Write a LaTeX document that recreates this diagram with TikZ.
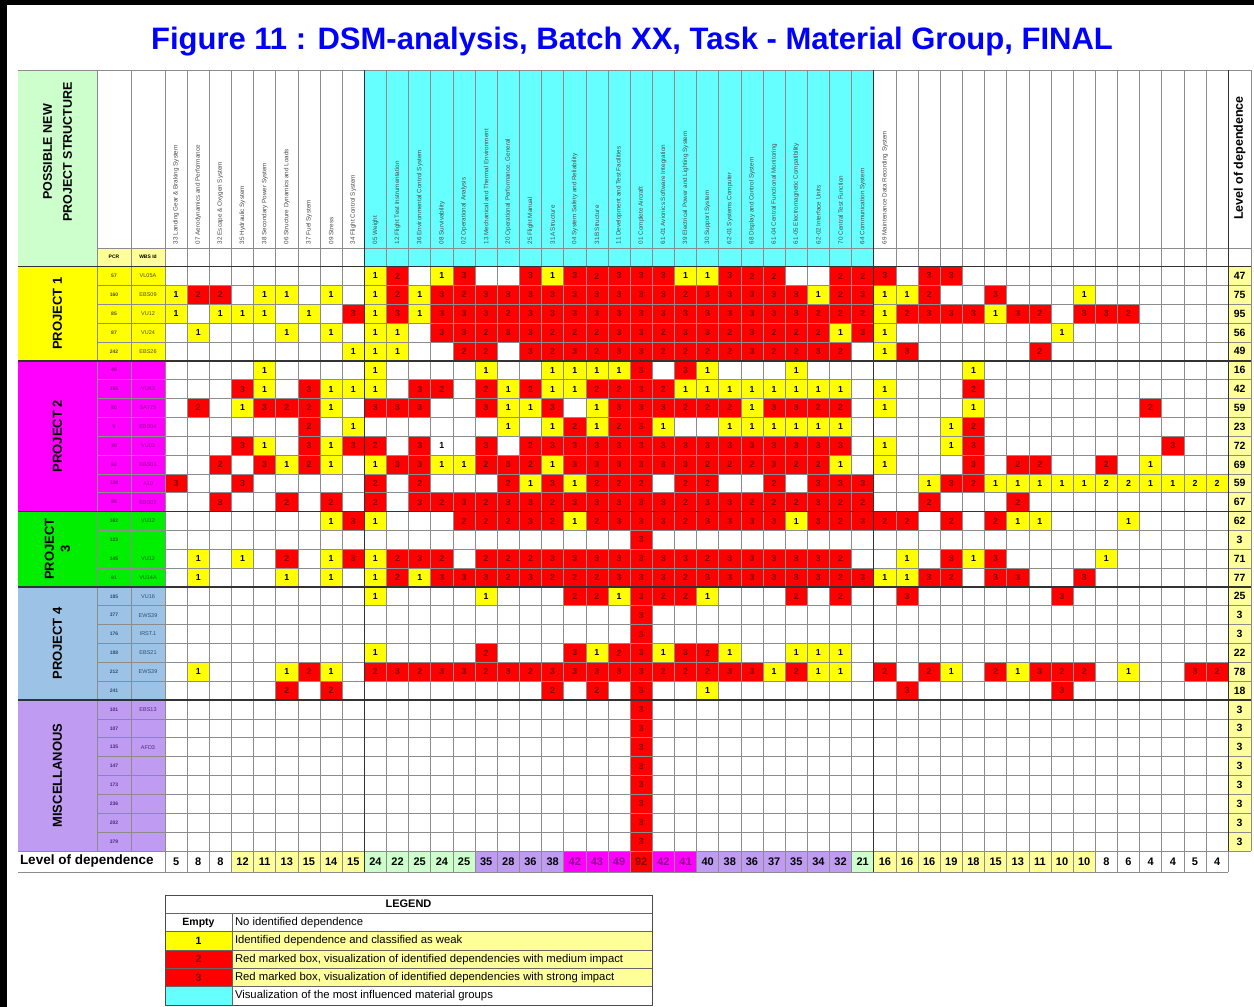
\documentclass[tikz,border=0pt]{standalone}
\usepackage{fontspec}
\setmainfont{Liberation Sans}
\definecolor{hdrCyan}{HTML}{66FFFF}
\definecolor{cellYel}{HTML}{FFFF00}
\definecolor{cellRed}{HTML}{FF0000}
\definecolor{numRed}{HTML}{800000}
\definecolor{lightYel}{HTML}{FFFF99}
\definecolor{lightGrn}{HTML}{CCFFCC}
\definecolor{grpMag}{HTML}{FF00FF}
\definecolor{grpGrn}{HTML}{00EE00}
\definecolor{grpBlue}{HTML}{9CC3E6}
\definecolor{grpLav}{HTML}{BF9BF2}
\definecolor{titleBlue}{HTML}{0000FF}
\definecolor{gridGray}{HTML}{8C8C8C}
\definecolor{txtMag}{HTML}{8A008A}
\definecolor{txtGrn}{HTML}{006400}
\definecolor{txtBlue}{HTML}{2F4F6F}
\definecolor{txtLav}{HTML}{4B2A7A}
\definecolor{txtYel}{HTML}{4D4D00}

\newcommand\dsmcw{22.15}
\newcommand\dsmrh{18.85}

% one matrix cell: row, column, code (1 weak, 2/3 red, 4 yellow "2", 5 plain "1")
\newcommand\dsmcell[3]{%
  \ifcase#3\relax
    \def\dsmfill{white}\def\dsmtext{black}\def\dsmnum{}%
  \or\def\dsmfill{cellYel}\def\dsmtext{black}\def\dsmnum{1}%
  \or\def\dsmfill{cellRed}\def\dsmtext{numRed}\def\dsmnum{2}%
  \or\def\dsmfill{cellRed}\def\dsmtext{numRed}\def\dsmnum{3}%
  \or\def\dsmfill{cellYel}\def\dsmtext{black}\def\dsmnum{2}%
  \or\def\dsmfill{white}\def\dsmtext{black}\def\dsmnum{1}%
  \fi
  \fill[fill=\dsmfill] ({165+(#2-1)*\dsmcw},{266.5+(#1-1)*\dsmrh}) rectangle ++(\dsmcw,\dsmrh);
  \node[cellnum,text=\dsmtext] (m-#1-#2) at ({165+(#2-0.5)*\dsmcw},{266.5+(#1-0.5)*\dsmrh}) {\dsmnum};
}

\begin{document}
\begin{tikzpicture}[x=1pt,y=-1pt,
  every node/.style={inner sep=0pt,outer sep=0pt},
  gridln/.style={draw=gridGray,line width=0.7pt},
  sepln/.style={draw=black!80,line width=1.5pt},
  cellnum/.style={font=\fontsize{8.8}{9}\selectfont\bfseries},
  hdrlbl/.style={rotate=90,anchor=west,font=\fontsize{6.3}{7}\selectfont,text=black!70},
  projlbl/.style={rotate=90,align=center,font=\fontsize{13}{15}\selectfont\bfseries},
  idtxt/.style={font=\fontsize{5.5}{6}\selectfont},
  lvlnum/.style={font=\fontsize{10.5}{11}\selectfont\bfseries},
  botnum/.style={font=\fontsize{11}{12}\selectfont\bfseries},
  legtxt/.style={anchor=west,font=\fontsize{11.3}{12}\selectfont}]

\useasboundingbox (0,0) rectangle (1254,1007);
\fill[white] (0,0) rectangle (1254,1007);

% frame
\draw[line width=7pt] (3.5,0) -- (3.5,1007);
\draw[line width=5pt] (0,2.5) -- (1254,2.5);

% title
\node[font=\fontsize{31}{33}\selectfont\bfseries,text=titleBlue] (title) at (632,42)
  {Figure 11 : DSM-analysis, Batch XX, Task - Material Group, FINAL};

% header backgrounds
\fill[lightGrn] (18,70) rectangle (97,266.5);
\fill[hdrCyan] ({165+9*\dsmcw},70) rectangle ({165+32*\dsmcw},266.5);
\fill[lightYel] (97,248) rectangle (165,266.5);
\node[projlbl,font=\fontsize{12.5}{20}\selectfont\bfseries] (newstruct) at (57.5,152)
  {POSSIBLE NEW\\PROJECT STRUCTURE};
\node[idtxt,font=\fontsize{5}{6}\selectfont\bfseries] (pcrh) at (114,257.2) {PCR};
\node[idtxt,font=\fontsize{5}{6}\selectfont\bfseries] (wbsh) at (148,257.2) {WBS Id};

% project group blocks
\fill[cellYel] (18,{266.5}) rectangle (165,{266.5+5*\dsmrh});
\fill[grpMag] (18,{266.5+5*\dsmrh}) rectangle (165,{266.5+13*\dsmrh});
\fill[grpGrn] (18,{266.5+13*\dsmrh}) rectangle (165,{266.5+17*\dsmrh});
\fill[grpBlue] (18,{266.5+17*\dsmrh}) rectangle (165,{266.5+23*\dsmrh});
\fill[grpLav] (18,{266.5+23*\dsmrh}) rectangle (165,{266.5+31*\dsmrh});
\node[projlbl] (p1) at (57.5,{266.5+2.5*\dsmrh}) {PROJECT 1};
\node[projlbl] (p2) at (57.5,{266.5+9*\dsmrh}) {PROJECT 2};
\node[projlbl,font=\fontsize{13}{16}\selectfont\bfseries] (p3) at (57.5,{266.5+15*\dsmrh}) {PROJECT\\3};
\node[projlbl] (p4) at (57.5,{266.5+20*\dsmrh}) {PROJECT 4};
\node[projlbl] (p5) at (57.5,{266.5+27*\dsmrh}) {MISCELLANOUS};

% PCR and WBS identifiers
\foreach \r/\p/\w/\tc in {1/57/VL05A/txtYel,2/160/EBS09/txtYel,3/85/VU12/txtYel,4/87/VU24/txtYel,5/242/EBS26/txtYel,
  6/46//txtMag,7/155/VU43/txtMag,8/80/SA775/txtMag,9/9/EBS04/txtMag,10/30/VU03/txtMag,11/92/EBS03/txtMag,12/138/A10/txtMag,13/98/EBS02/txtMag,
  14/162/VU12/txtGrn,15/123//txtGrn,16/145/VU12/txtGrn,17/61/VU14A/txtGrn,
  18/185/VU16/txtBlue,19/377/EWS39/txtBlue,20/176/IRST.1/txtBlue,21/188/EBS21/txtBlue,22/212/EWS39/txtBlue,23/241//txtBlue,
  24/101/EBS13/txtLav,25/107//txtLav,26/135/AFD3/txtLav,27/147//txtLav,28/173//txtLav,29/236//txtLav,30/202//txtLav,31/379//txtLav}{
  \node[idtxt,font=\fontsize{5}{6}\selectfont\bfseries,text=\tc] (pcr-\r) at (114,{266.5+(\r-0.5)*\dsmrh}) {\p};
  \node[idtxt,text=\tc] (wbs-\r) at (148,{266.5+(\r-0.5)*\dsmrh}) {\w};
}

% matrix cells
\foreach \r/\cells in {
 1/{10/1,11/2,13/1,14/3,17/3,18/1,19/3,20/2,21/3,22/3,23/3,24/1,25/1,26/3,27/2,28/2,31/2,32/2,33/3,35/3,36/3},
 2/{1/1,2/2,3/2,5/1,6/1,8/1,10/1,11/2,12/1,13/3,14/2,15/3,16/3,17/3,18/3,19/3,20/3,21/3,22/3,23/3,24/2,25/3,26/3,27/3,28/3,29/3,30/1,31/2,32/3,33/1,34/1,35/2,38/3,42/1},
 3/{1/1,3/1,4/1,5/1,7/1,9/3,10/1,11/3,12/1,13/3,14/3,15/3,16/2,17/3,18/3,19/3,20/3,21/3,22/3,23/3,24/3,25/3,26/3,27/3,28/3,29/3,30/2,31/2,32/2,33/1,34/2,35/3,36/3,37/3,38/1,39/3,40/2,42/3,43/3,44/2},
 4/{2/1,6/1,8/1,10/1,11/1,13/3,14/3,15/2,16/3,17/3,18/2,19/2,20/2,21/3,22/3,23/2,24/3,25/3,26/2,27/3,28/2,29/2,30/2,31/1,32/3,33/1,41/1},
 5/{9/1,10/1,11/1,14/2,15/2,17/3,18/2,19/3,20/2,21/3,22/3,23/2,24/2,25/2,26/2,27/3,28/2,29/2,30/3,31/2,33/1,34/3,40/2},
 6/{5/1,10/1,15/1,18/1,19/1,20/1,21/1,22/3,24/3,25/1,29/1,37/1},
 7/{4/3,5/1,7/3,8/1,9/1,10/1,12/3,13/2,15/2,16/1,17/2,18/1,19/1,20/2,21/2,22/3,23/2,24/1,25/1,26/1,27/1,28/1,29/1,30/1,31/1,33/1,37/2},
 8/{2/2,4/1,5/3,6/2,7/2,8/1,10/3,11/3,12/3,15/3,16/1,17/1,18/3,20/1,21/3,22/3,23/3,24/2,25/2,26/2,27/1,28/3,29/3,30/2,31/2,33/1,37/1,45/2},
 9/{7/2,9/1,16/1,18/1,19/2,20/1,21/2,22/3,23/1,26/1,27/1,28/1,29/1,30/1,31/1,36/1,37/2},
 10/{4/3,5/1,7/3,8/1,9/3,10/2,12/3,13/5,15/3,17/2,18/3,19/3,20/3,21/3,22/3,23/3,24/3,25/3,26/3,27/3,28/3,29/3,30/3,31/3,33/1,36/1,37/3,46/3},
 11/{3/2,5/3,6/1,7/2,8/1,10/1,11/3,12/3,13/1,14/1,15/2,16/3,17/2,18/1,19/3,20/3,21/3,22/3,23/3,24/3,25/2,26/2,27/2,28/3,29/2,30/2,31/1,33/1,37/3,39/2,40/2,43/2,45/1},
 12/{1/3,4/3,10/2,12/2,16/2,17/1,18/3,19/1,20/2,21/2,22/2,24/2,25/2,28/2,30/3,31/3,32/3,35/1,36/3,37/2,38/1,39/1,40/1,41/1,42/1,43/4,44/4,45/1,46/1,47/4,48/4},
 13/{3/3,6/2,8/2,10/2,12/3,13/2,14/3,15/2,16/3,17/3,18/2,19/3,20/3,21/3,22/3,23/3,24/2,25/3,26/3,27/2,28/2,29/2,30/3,31/2,32/2,35/2,39/2},
 14/{8/1,9/3,10/1,14/2,15/2,16/2,17/3,18/2,19/1,20/2,21/3,22/3,23/3,24/2,25/3,26/3,27/3,28/3,29/1,30/3,31/2,32/3,33/2,34/2,36/2,38/2,39/1,40/1,44/1},
 15/{22/3},
 16/{2/1,4/1,6/2,8/1,9/3,10/1,11/2,12/3,13/2,15/2,16/2,17/2,18/3,19/3,20/3,21/3,22/3,23/3,24/3,25/2,26/3,27/3,28/3,29/3,30/3,31/2,34/1,36/3,37/1,38/3,43/1},
 17/{2/1,6/1,8/1,10/1,11/2,12/1,13/3,14/3,15/3,16/2,17/3,18/2,19/2,20/2,21/3,22/3,23/3,24/2,25/3,26/3,27/3,28/3,29/3,30/3,31/2,32/3,33/1,34/1,35/3,36/2,38/3,39/3,42/3},
 18/{10/1,15/1,19/2,20/2,21/1,22/3,23/2,24/2,25/1,29/2,31/2,34/3,41/3},
 19/{22/3},
 20/{22/3},
 21/{10/1,15/2,19/3,20/1,21/2,22/3,23/1,24/3,25/2,26/1,29/1,30/1,31/1},
 22/{2/1,6/1,7/2,8/1,10/2,11/3,12/2,13/3,14/3,15/2,16/3,17/2,18/3,19/3,20/3,21/3,22/3,23/2,24/2,25/2,26/3,27/3,28/1,29/2,30/1,31/1,33/2,35/2,36/1,38/2,39/1,40/3,41/2,42/2,44/1,47/3,48/2},
 23/{6/2,8/2,18/2,20/2,22/3,25/1,34/3,41/3},
 24/{22/3},25/{22/3},26/{22/3},27/{22/3},28/{22/3},29/{22/3},30/{22/3},31/{22/3}}{
  \foreach \c/\v in \cells {\dsmcell{\r}{\c}{\v}}
}

% level of dependence per row
\fill[lightYel] ({165+48*\dsmcw},266.5) rectangle (1251,{266.5+31*\dsmrh});
\foreach \r/\v in {1/47,2/75,3/95,4/56,5/49,6/16,7/42,8/59,9/23,10/72,11/69,12/59,13/67,14/62,15/3,16/71,
  17/77,18/25,19/3,20/3,21/22,22/78,23/18,24/3,25/3,26/3,27/3,28/3,29/3,30/3,31/3}{
  \node[lvlnum] (lv-\r) at (1239.6,{266.5+(\r-0.5)*\dsmrh}) {\v};
}
\node[rotate=90,font=\fontsize{12.5}{14}\selectfont\bfseries] (lvh) at (1239.6,158) {Level of dependence};

% level of dependence per column
\foreach \c/\v/\f/\tc in {1/5/white/black,2/8/white/black,3/8/white/black,
  4/12/lightYel/black,5/11/lightYel/black,6/13/lightYel/black,7/15/lightYel/black,8/14/lightYel/black,9/15/lightYel/black,
  10/24/lightGrn/black,11/22/lightGrn/black,12/25/lightGrn/black,13/24/lightGrn/black,14/25/lightGrn/black,
  15/35/grpLav/black,16/28/grpLav/black,17/36/grpLav/black,18/38/grpLav/black,
  19/42/grpMag/txtMag,20/43/grpMag/txtMag,21/49/grpMag/txtMag,22/92/cellRed/numRed,23/42/grpMag/txtMag,24/41/grpMag/txtMag,
  25/40/grpLav/black,26/38/grpLav/black,27/36/grpLav/black,28/37/grpLav/black,29/35/grpLav/black,30/34/grpLav/black,31/32/grpLav/black,
  32/21/lightGrn/black,
  33/16/lightYel/black,34/16/lightYel/black,35/16/lightYel/black,36/19/lightYel/black,37/18/lightYel/black,
  38/15/lightYel/black,39/13/lightYel/black,40/11/lightYel/black,41/10/lightYel/black,42/10/lightYel/black,
  43/8/white/black,44/6/white/black,45/4/white/black,46/4/white/black,47/5/white/black,48/4/white/black}{
  \fill[fill=\f] ({165+(\c-1)*\dsmcw},{266.5+31*\dsmrh}) rectangle ({165+\c*\dsmcw},872);
  \node[botnum,text=\tc] (cl-\c) at ({165+(\c-0.5)*\dsmcw},{(266.5+31*\dsmrh+872)/2}) {\v};
}
\node[anchor=west,font=\fontsize{13.5}{15}\selectfont\bfseries] (cllbl) at (20,{(266.5+31*\dsmrh+872)/2}) {Level of dependence};

% column headings
\foreach \c/\t in {1/{33 Landing Gear \& Braking System},2/{07 Aerodynamics and Performance},3/{32 Escape \& Oxygen System},
  4/{35 Hydraulic System},5/{38 Secondary Power System},6/{06 Structure Dynamics and Loads},7/{37 Fuel System},8/{09 Stress},
  9/{34 Flight Control System},10/{05 Weight},11/{12 Flight Test Instrumentation},12/{36 Environmental Control System},
  13/{08 Survivability},14/{02 Operational Analysis},15/{13 Mechanical and Thermal Environment},
  16/{20 Operational Performance, General},17/{25 Flight Manual},18/{31A  Structure},19/{04 System Safety and Reliability},
  20/{31B  Structure},21/{11 Development and Test Facilities},22/{01 Complete Aircraft},23/{61-01 Avionics Software Integration},
  24/{39 Electrical Power and Lighting System},25/{30 Support System},26/{62-01 Systems Computer},27/{68 Display and Control System},
  28/{61-04 Central Functional Monitoring},29/{61-05 Electromagnetic Compatibility},30/{62-02 Interface Units},
  31/{70 Central Test Function},32/{64 Communication System},33/{69 Maintenance Data Recording System}}{
  \node[hdrlbl] (h-\c) at ({165+(\c-0.5)*\dsmcw},244) {\t};
}

% grid
\foreach \k in {0,...,31}{
  \draw[gridln] (97,{266.5+\k*\dsmrh}) -- (1251,{266.5+\k*\dsmrh});
}
\foreach \k in {0,...,48}{
  \draw[gridln] ({165+\k*\dsmcw},70) -- ({165+\k*\dsmcw},872);
}
\draw[gridln] (97,70) -- (97,{266.5+31*\dsmrh});
\draw[gridln] (131,70) -- (131,{266.5+31*\dsmrh});
\draw[gridln] (1251,70) -- (1251,{266.5+31*\dsmrh});
\draw[gridln] (18,70) -- (1251,70);
\draw[gridln] (97,248) -- (1251,248);
\draw[gridln] (18,{266.5+31*\dsmrh}) -- (1251,{266.5+31*\dsmrh});
\draw[gridln] (18,872) -- ({165+48*\dsmcw},872);

% group separators
\foreach \k in {0,5,13,17,23}{
  \draw[sepln] (18,{266.5+\k*\dsmrh}) -- (1251,{266.5+\k*\dsmrh});
}
\draw[sepln,line width=1.3pt] ({165+9*\dsmcw},70) -- ({165+9*\dsmcw},872);
\draw[sepln,line width=1.3pt] ({165+32*\dsmcw},70) -- ({165+32*\dsmcw},872);
\draw[sepln,line width=1.3pt] ({165+48*\dsmcw},70) -- ({165+48*\dsmcw},{266.5+31*\dsmrh});

% legend
\fill[cellYel] (165,931.6) rectangle (232,950);
\fill[lightYel] (232,931.6) rectangle (652,986.6);
\fill[cellRed] (165,950) rectangle (232,986.6);
\fill[hdrCyan] (165,986.6) rectangle (232,1005);
\foreach \y in {913.3,931.6,950,968.3,986.6}{
  \draw[draw=black!60,line width=0.7pt] (165,\y) -- (652,\y);
}
\draw[draw=black!60,line width=0.7pt] (232,913.3) -- (232,1005);
\draw[draw=black!70,line width=1pt] (165,895) rectangle (652,1005);
\node[font=\fontsize{11}{12}\selectfont\bfseries] (legtitle) at (408.5,904.2) {LEGEND};
\node[font=\fontsize{10.5}{11}\selectfont\bfseries] (leg0) at (198.5,922.5) {Empty};
\node[font=\fontsize{10.5}{11}\selectfont\bfseries] (leg1) at (198.5,940.8) {1};
\node[font=\fontsize{10.5}{11}\selectfont\bfseries,text=numRed] (leg2) at (198.5,959.2) {2};
\node[font=\fontsize{10.5}{11}\selectfont\bfseries,text=numRed] (leg3) at (198.5,977.5) {3};
\node[legtxt] (legd0) at (235,922.5) {No identified dependence};
\node[legtxt] (legd1) at (235,940.8) {Identified dependence and classified as weak};
\node[legtxt] (legd2) at (235,959.2) {Red marked box, visualization of identified dependencies with medium impact};
\node[legtxt] (legd3) at (235,977.5) {Red marked box, visualization of identified dependencies with strong impact};
\node[legtxt] (legd4) at (235,995.8) {Visualization of the most influenced material groups};
\end{tikzpicture}
\end{document}
